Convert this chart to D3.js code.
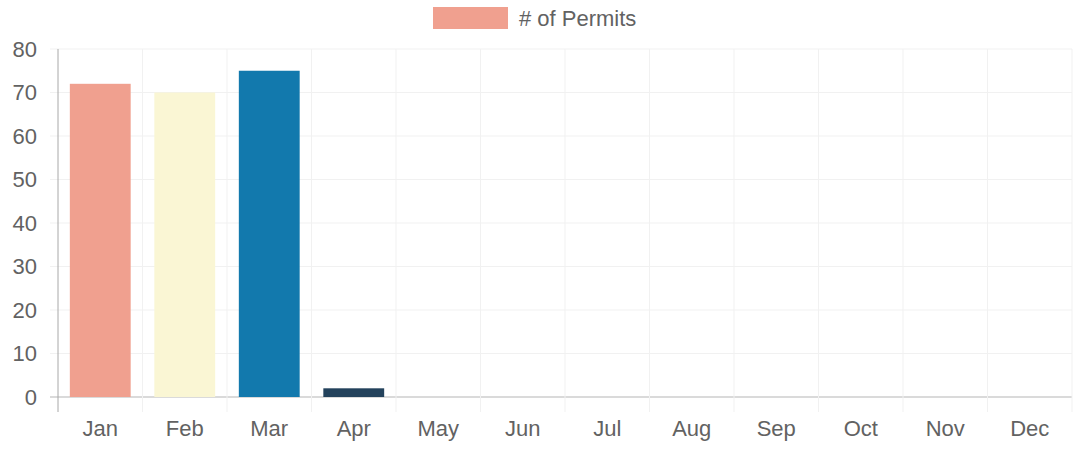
<!DOCTYPE html>
<html>
<head>
<meta charset="utf-8">
<script src="https://cdn.jsdelivr.net/npm/d3@7"></script>
<style>
  body { margin: 0; background: #fff; }
  text { font-family: "Liberation Sans", Arial, sans-serif; fill: #626262; }
</style>
</head>
<body>
<div id="chart"></div>
<script>
var months = ["Jan", "Feb", "Mar", "Apr", "May", "Jun", "Jul", "Aug", "Sep", "Oct", "Nov", "Dec"];
var permits = [72, 70, 75, 2, 0, 0, 0, 0, 0, 0, 0, 0];
var barColors = ["#f0a08f", "#faf6d4", "#1279ad", "#23425c", "#e8a33c", "#7fb5a8", "#c4d6e0", "#d0665a", "#8c9fb0", "#f2d17a", "#5a8fb8", "#9bbf85"];
var yTicks = [0, 10, 20, 30, 40, 50, 60, 70, 80];
var seriesLabel = "# of Permits";

var w = 1082;
var h = 449;
var margin = {top: 49, right: 10, bottom: 52, left: 58};

var svg = d3.select("#chart")
  .append("svg")
  .attr("width", w)
  .attr("height", h);

var x = d3.scaleBand()
  .domain(months)
  .range([margin.left, w - margin.right])
  .paddingInner(0)
  .paddingOuter(0);

var y = d3.scaleLinear()
  .domain([0, 80])
  .range([h - margin.bottom, margin.top]);

// horizontal grid
svg.append("g")
  .selectAll("line")
  .data(yTicks)
  .enter()
  .append("line")
  .attr("x1", margin.left - 8)
  .attr("x2", w - margin.right)
  .attr("y1", d => y(d))
  .attr("y2", d => y(d))
  .attr("stroke", d => d == 0 ? "#b5b5b5" : "#f1f1f1")
  .attr("stroke-width", 1);

// vertical grid at category edges
var edges = months.map(m => x(m)).concat([x.range()[1]]);
svg.append("g")
  .selectAll("line")
  .data(edges)
  .enter()
  .append("line")
  .attr("x1", d => d)
  .attr("x2", d => d)
  .attr("y1", margin.top)
  .attr("y2", h - margin.bottom + 15)
  .attr("stroke", (d, i) => i == 0 ? "#a8a8a8" : "#f1f1f1")
  .attr("stroke-width", 1);

// bars
var bw = x.bandwidth() * 0.72;
svg.append("g")
  .selectAll("rect")
  .data(permits)
  .enter()
  .append("rect")
  .attr("x", (d, i) => x(months[i]) + (x.bandwidth() - bw) / 2)
  .attr("width", bw)
  .attr("y", d => y(d))
  .attr("height", d => y(0) - y(d))
  .attr("fill", (d, i) => barColors[i]);

// y labels
svg.append("g")
  .selectAll("text")
  .data(yTicks)
  .enter()
  .append("text")
  .attr("x", margin.left - 21)
  .attr("y", d => y(d))
  .attr("dy", "0.35em")
  .attr("text-anchor", "end")
  .style("font-size", "22px")
  .text(d => d);

// x labels
svg.append("g")
  .selectAll("text")
  .data(months)
  .enter()
  .append("text")
  .attr("x", d => x(d) + x.bandwidth() / 2)
  .attr("y", h - margin.bottom + 39)
  .attr("text-anchor", "middle")
  .style("font-size", "22px")
  .text(d => d);

// legend
svg.append("rect")
  .attr("x", 433)
  .attr("y", 7)
  .attr("width", 75)
  .attr("height", 22)
  .attr("fill", barColors[0]);
svg.append("text")
  .attr("x", 519)
  .attr("y", 18)
  .attr("dy", "0.35em")
  .style("font-size", "22px")
  .text(seriesLabel);
</script>
</body>
</html>
